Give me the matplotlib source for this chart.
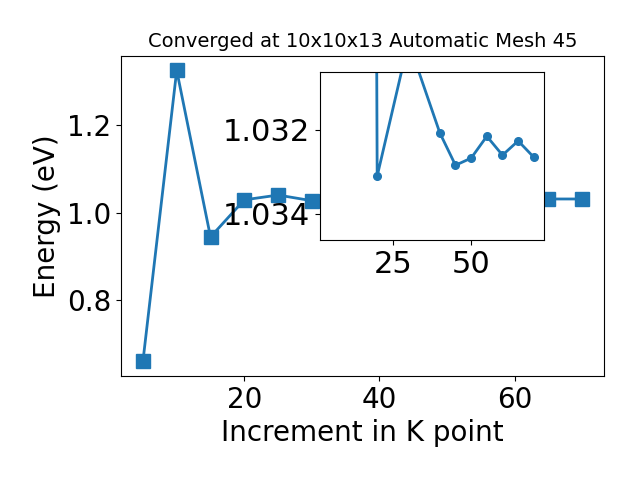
import matplotlib
matplotlib.use('Agg')
import matplotlib.pyplot as plt

# main convergence series
kpoints = [5, 10, 15, 20, 25, 30, 35, 40, 45, 50, 55, 60, 65, 70]
energy = [0.659, 1.3255, 0.944, 1.029, 1.040, 1.027, 1.031, 1.031,
          1.031, 1.031, 1.031, 1.031, 1.031, 1.031]

# zoomed inset series
inset_k = [15, 20, 30, 40, 45, 50, 55, 60, 65, 70]
inset_energy = [0.944, 1.0331, 1.0299, 1.03207, 1.03284, 1.03267,
                1.03215, 1.03260, 1.03226, 1.03265]

fig = plt.figure(figsize=(6.4, 4.8), dpi=100)
ax = fig.add_axes([0.189, 0.2167, 0.755, 0.667])
ax.plot(kpoints, energy, marker='s', markersize=10, linewidth=2, color='#1f77b4')
ax.set_xlabel('Increment in K point', fontsize=20)
ax.set_ylabel('Energy (eV)', fontsize=20)
ax.set_title('Converged at 10x10x13 Automatic Mesh 45', fontsize=14)
ax.tick_params(labelsize=20)
ax.set_yticks([0.8, 1.0, 1.2])

ins = fig.add_axes([0.5, 0.5, 0.35, 0.35])
ins.plot(inset_k, inset_energy, marker='o', markersize=5.5, linewidth=2, color='#1f77b4')
ins.set_xlim(ax.get_xlim())
ins.set_ylim(1.03462, 1.03062)
ins.set_yticks([1.032, 1.034])
ins.set_xticks([25, 50])
ins.tick_params(labelsize=22)

fig.savefig('out.png', dpi=100)
